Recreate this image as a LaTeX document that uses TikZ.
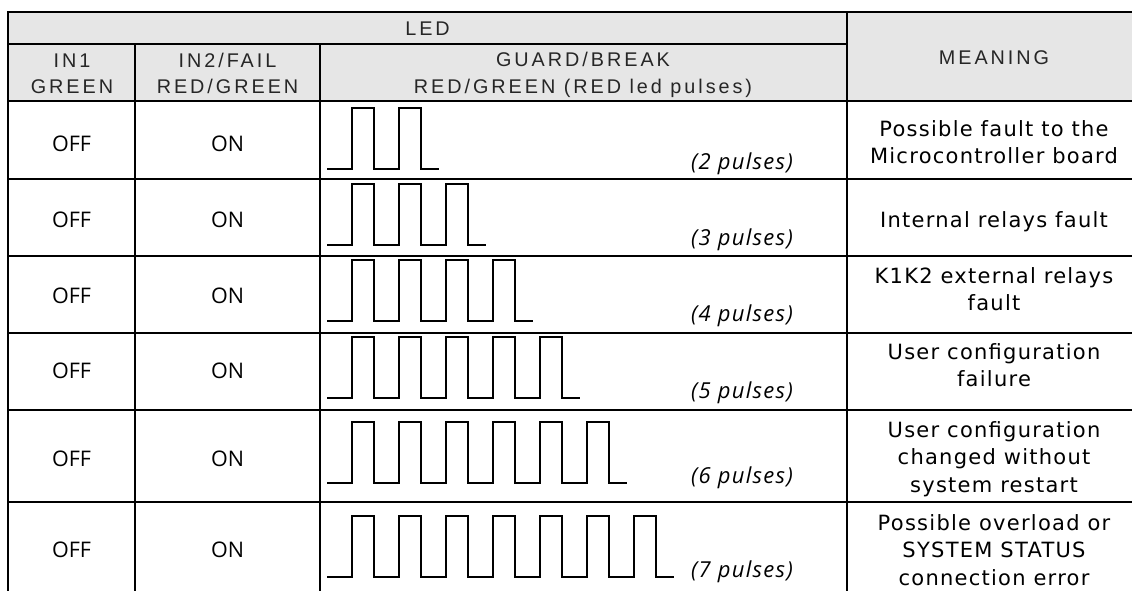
\documentclass[tikz,border=0pt]{standalone}
\usepackage{fontspec}
\setmainfont{Open Sans}
\newfontfamily\headfont{Liberation Sans}[LetterSpace=15]
\newfontfamily\meanfont{DejaVu Sans}[LetterSpace=6]
\newfontfamily\countfont{Open Sans}[LetterSpace=6]
\definecolor{headgray}{HTML}{E6E6E6}
\tikzset{
  rule/.style={line width=2.8pt, line cap=rect},
  pulse/.style={line width=2.8pt, line join=miter},
  head/.style={font=\headfont\fontsize{19.8}{26}\selectfont, text=black!85, anchor=base, inner sep=0pt},
  cell/.style={font=\fontsize{21.5}{26}\selectfont, anchor=base, inner sep=0pt},
  count/.style={font=\countfont\itshape\fontsize{22}{26}\selectfont, anchor=base east, inner sep=0pt},
  mean/.style={font=\meanfont\fontsize{21}{27.5}\selectfont, align=center, inner sep=0pt},
}

\begin{document}
\begin{tikzpicture}[x=1pt, y=-1pt]
\useasboundingbox (0,0) rectangle (1132,591);
% header band
\fill[headgray] (8,12) rectangle (1142,101);
% table rules
\draw[rule] (8,12) -- (1142,12);
\draw[rule] (8,44) -- (847,44);
\foreach \y in {101,179,256,333,410,502}
  \draw[rule] (8,\y) -- (1142,\y);
\draw[rule] (8,12) -- (8,600);
\draw[rule] (135,44) -- (135,600) (320,44) -- (320,600);
\draw[rule] (847,12) -- (847,600);

% header texts
\node[head] (led) at (427.5,36) {LED};
\node[head] (in1a) at (72,68) {IN1};
\node[head] (in1b) at (72,94) {GREEN};
\node[head] (in2a) at (227.5,68) {IN2/FAIL};
\node[head] (in2b) at (227.5,94) {RED/GREEN};
\node[head] (guarda) at (583,67) {GUARD/BREAK};
\node[head] (guardb) at (583,94) {RED/GREEN (RED led pulses)};
\node[head] (meaning) at (994,65) {MEANING};

% one row per fault code
\foreach \n/\yl/\yp/\ym/\txt in {
  2/152/169/142/{Possible fault to the\\Microcontroller board},
  3/227/245/222/{Internal relays fault},
  4/303/321/289/{K1K2 external relays\\fault},
  5/378/398/365/{User configuration\\failure},
  6/466/483/459/{User configuration\\changed without\\system restart},
  7/557/577/550/{Possible overload or\\SYSTEM STATUS\\connection error}}
{
  \node[cell] (off\n) at (71.5,\yl) {OFF};
  \node[cell] (on\n) at (227.5,\yl) {ON};
  \coordinate (start\n) at (327,\yp);
  \draw[pulse] (start\n) \foreach \k in {1,...,\n} {-- ++(25,0) -- ++(0,-61) -- ++(22,0) -- ++(0,61)} -- ++(18,0);
  \node[count] (count\n) at (793,\yp) {(\n\ pulses)};
  \node[mean] (mean\n) at (994,\ym) {\txt};
}
\end{tikzpicture}
\end{document}
